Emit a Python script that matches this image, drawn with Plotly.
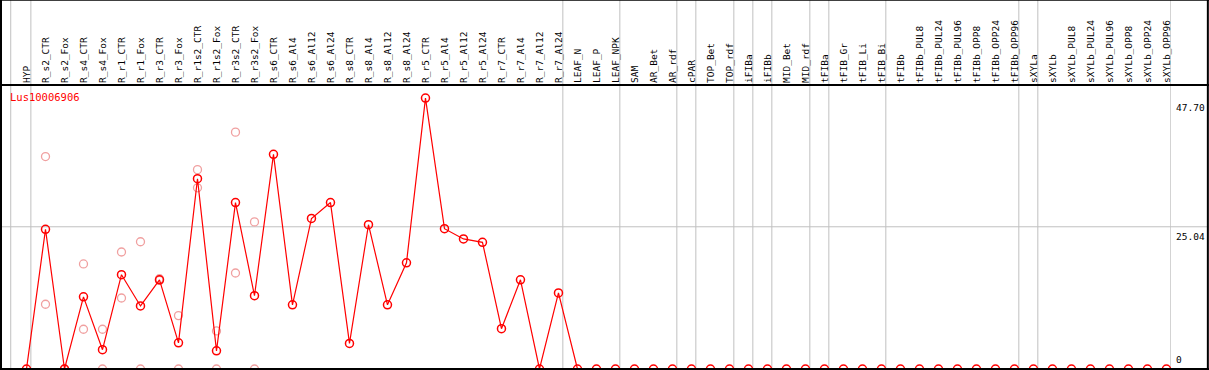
import plotly.graph_objects as go

title = "Lus10006906"
categories = ["HYP", "R_s2_CTR", "R_s2_Fox", "R_s4_CTR", "R_s4_Fox", "R_r1_CTR", "R_r1_Fox",
              "R_r3_CTR", "R_r3_Fox", "R_r1s2_CTR", "R_r1s2_Fox", "R_r3s2_CTR", "R_r3s2_Fox",
              "R_s6_CTR", "R_s6_Al4", "R_s6_Al12", "R_s6_Al24", "R_s8_CTR", "R_s8_Al4",
              "R_s8_Al12", "R_s8_Al24", "R_r5_CTR", "R_r5_Al4", "R_r5_Al12", "R_r5_Al24",
              "R_r7_CTR", "R_r7_Al4", "R_r7_Al12", "R_r7_Al24", "LEAF_N", "LEAF_P", "LEAF_NPK",
              "SAM", "AR_Bet", "AR_rdf", "cPAR", "TOP_Bet", "TOP_rdf", "iFIBa", "iFIBb",
              "MID_Bet", "MID_rdf", "tFIBa", "tFIB_Gr", "tFIB_Li", "tFIB_Bi", "tFIBb",
              "tFIBb_PUL8", "tFIBb_PUL24", "tFIBb_PUL96", "tFIBb_OPP8", "tFIBb_OPP24",
              "tFIBb_OPP96", "sXYLa", "sXYLb", "sXYLb_PUL8", "sXYLb_PUL24", "sXYLb_PUL96",
              "sXYLb_OPP8", "sXYLb_OPP24", "sXYLb_OPP96"]

mean_values = [0, 24.6, 0, 12.7, 3.4, 16.6, 11.1, 15.7, 4.6, 33.5, 3.2, 29.3, 12.9,
               37.8, 11.3, 26.5, 29.3, 4.5, 25.4, 11.3, 18.7, 47.7, 24.7, 22.9, 22.3,
               7.1, 15.7, 0, 13.4] + [0] * 32

# replicate values (first 12 samples after HYP)
rep_categories = ["R_s2_CTR", "R_s2_Fox", "R_s4_CTR", "R_s4_Fox", "R_r1_CTR", "R_r1_Fox",
                  "R_r3_CTR", "R_r3_Fox", "R_r1s2_CTR", "R_r1s2_Fox", "R_r3s2_CTR", "R_r3s2_Fox"]
rep1 = [37.4, 0, 18.5, 7.0, 20.6, 22.4, 15.9, 9.4, 35.1, 6.7, 41.7, 25.9]
rep2 = [11.4, 0, 7.0, 0, 12.5, 0, 15.6, 0, 31.9, 0, 16.9, 0]

group_ends = ["HYP", "R_r7_Al24", "LEAF_NPK", "AR_rdf", "cPAR", "TOP_rdf", "iFIBa", "iFIBb",
              "MID_rdf", "tFIBa", "tFIB_Bi", "tFIBb_OPP96", "sXYLa", "sXYLb_OPP96"]
y_labels = [0, 25.04, 47.70]

idx = {c: i for i, c in enumerate(categories)}
x_main = list(range(len(categories)))
x_rep = [idx[c] for c in rep_categories]

RED = "#ff0000"
PINK = "#f0a0a0"
GREY = "#c0c0c0"
FONT = "DejaVu Sans Mono"

fig = go.Figure()
fig.add_trace(go.Scatter(x=x_rep + x_rep, y=rep1 + rep2, mode="markers",
                         marker=dict(symbol="circle-open", size=8, color=PINK, line=dict(width=1.3)),
                         hoverinfo="skip", showlegend=False))
fig.add_trace(go.Scatter(x=x_main, y=mean_values, mode="lines+markers",
                         line=dict(color=RED, width=1.2),
                         marker=dict(symbol="circle-open", size=8, color=RED, line=dict(width=1.5)),
                         showlegend=False))

shapes = []
# vertical group separators, spanning header and plot
for g in group_ends:
    xv = idx[g] + 0.23
    shapes.append(dict(type="line", xref="x", yref="paper", x0=xv, x1=xv, y0=0, y1=1.30,
                       line=dict(color=GREY, width=1), layer="below"))
shapes.append(dict(type="line", xref="x", yref="paper", x0=-0.83, x1=-0.83, y0=0, y1=1.30,
                   line=dict(color=GREY, width=1), layer="below"))
# horizontal grid at middle label
shapes.append(dict(type="line", xref="paper", yref="y", x0=0, x1=1.032, y0=y_labels[1], y1=y_labels[1],
                   line=dict(color=GREY, width=1), layer="below"))
# black frame lines
blk = dict(color="black", width=2)
shapes.append(dict(type="line", xref="paper", yref="paper", x0=-0.01, x1=1.04, y0=1, y1=1, line=blk))
shapes.append(dict(type="line", xref="paper", yref="paper", x0=-0.01, x1=1.04, y0=1.30, y1=1.30, line=blk))
shapes.append(dict(type="line", xref="paper", yref="paper", x0=-0.01, x1=1.04, y0=0, y1=0, line=blk))
shapes.append(dict(type="line", xref="paper", yref="paper", x0=0, x1=0, y0=-0.01, y1=1.31, line=blk))
shapes.append(dict(type="line", xref="paper", yref="paper", x0=1.0315, x1=1.0315, y0=-0.01, y1=1.31, line=blk))

annotations = [dict(text=title, xref="paper", yref="paper", x=0.006, y=0.985, xanchor="left",
                    yanchor="top", showarrow=False, font=dict(family=FONT, size=10.5, color=RED))]
for v in y_labels:
    annotations.append(dict(text=(f"{v:.2f}" if v else "0"), xref="paper", yref="y", x=1.0025, y=v,
                            xanchor="left", yanchor=("bottom" if v == 0 else "top"),
                            yshift=(2 if v == 0 else -2), showarrow=False,
                            font=dict(family=FONT, size=9.5, color="black")))

fig.update_layout(
    width=1209, height=370,
    margin=dict(l=1, r=38, t=85, b=1, pad=0),
    paper_bgcolor="white", plot_bgcolor="white",
    shapes=shapes, annotations=annotations,
    xaxis=dict(range=[-1.342, 60.24], showgrid=False, zeroline=False, showticklabels=False,
               ticks="", showline=False, fixedrange=True),
    xaxis2=dict(range=[-1.342, 60.24], overlaying="x", side="top", tickmode="array",
                tickvals=x_main, ticktext=categories, tickangle=-90, ticks="", showgrid=False,
                zeroline=False, showline=False, ticklabelstandoff=1,
                tickfont=dict(family=FONT, size=9.5, color="black")),
    yaxis=dict(range=[0, 50.0], showgrid=False, zeroline=False, showticklabels=False,
               ticks="", showline=False),
)
fig.add_trace(go.Scatter(x=[0], y=[0], xaxis="x2", mode="markers", marker=dict(opacity=0),
                         hoverinfo="skip", showlegend=False))
fig.write_html("out.html", config={"displayModeBar": False},
               post_script="document.body.style.margin='0px';")
